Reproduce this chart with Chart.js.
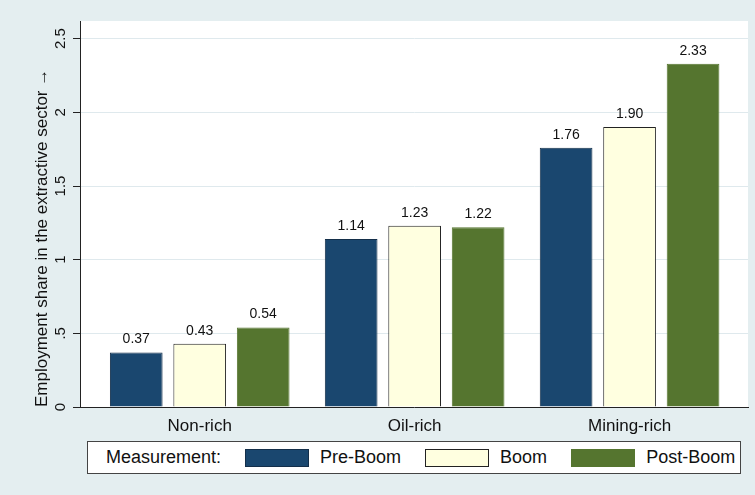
<!DOCTYPE html>
<html>
<head>
<meta charset="utf-8">
<script src="https://cdn.jsdelivr.net/npm/chart.js@4.4.0/dist/chart.umd.min.js"></script>
<style>
  body { margin: 0; background: #e4eef0; }
  #wrap { position: relative; width: 755px; height: 495px; }
  #legend {
    position: absolute; left: 87px; top: 441px; width: 652px; height: 31px;
    background: #fff; border: 1px solid #444;
    display: flex; align-items: center; white-space: nowrap;
    font-family: "Liberation Sans", Arial, sans-serif; font-size: 18px; color: #111;
  }
  #legend span { flex-shrink: 0; }
  #legend .title { margin-left: 18px; margin-right: 24px; }
  #legend .sw { width: 62px; height: 16px; border: 1px solid #222; margin-right: 11px; }
  #legend .lab { margin-right: 24px; }
</style>
</head>
<body>
<div id="wrap">
  <canvas id="myChart" width="755" height="495"></canvas>
  <div id="legend"></div>
</div>
<script>
// categories and series
let categories = ['Non-rich', 'Oil-rich', 'Mining-rich'];
let preBoom = [0.37, 1.14, 1.76];
let boom = [0.43, 1.23, 1.90];
let postBoom = [0.54, 1.22, 2.33];
let yTicks = [0, 0.5, 1, 1.5, 2, 2.5];
let yTickLabels = ['0', '.5', '1', '1.5', '2', '2.5'];
let legendTitle = 'Measurement:';
let yTitle = 'Employment share in the extractive sector \u2192';

const font = '"Liberation Sans", Arial, sans-serif';

function toPoints(values) {
    return values.map((v, i) => ({ x: i, y: v }));
}

// sfondo grigio-azzurro + area bianca
const bgPlugin = {
    id: 'bg',
    beforeDraw(chart) {
        const c = chart.ctx, a = chart.chartArea;
        c.save();
        c.fillStyle = '#e4eef0';
        c.fillRect(0, 0, chart.width, chart.height);
        c.fillStyle = '#ffffff';
        c.fillRect(a.left, a.top, a.right - a.left, a.bottom - a.top);
        c.restore();
    }
};

// etichette valori sopra le barre
const valuePlugin = {
    id: 'values',
    afterDatasetsDraw(chart) {
        const c = chart.ctx;
        c.save();
        c.font = '14px ' + font;
        c.fillStyle = '#111';
        c.textAlign = 'center';
        c.textBaseline = 'middle';
        chart.data.datasets.forEach((ds, di) => {
            chart.getDatasetMeta(di).data.forEach((bar, i) => {
                c.fillText(ds.data[i].y.toFixed(2), bar.x, bar.y - 13);
            });
        });
        c.restore();
    }
};

const ctx = document.getElementById('myChart');
const myChart = new Chart(ctx, {
    type: 'bar',
    data: {
        datasets: [
            { label: 'Pre-Boom', data: toPoints(preBoom), backgroundColor: '#1a476f', borderColor: '#142f4a', borderWidth: 1 },
            { label: 'Boom', data: toPoints(boom), backgroundColor: '#ffffe0', borderColor: '#222222', borderWidth: 1 },
            { label: 'Post-Boom', data: toPoints(postBoom), backgroundColor: '#55752f', borderColor: '#55752f', borderWidth: 1 }
        ]
    },
    options: {
        responsive: false,
        animation: false,
        events: [],
        layout: { padding: { top: 21, right: 7, left: 0, bottom: 0 } },
        categoryPercentage: 0.886,
        barPercentage: 0.83,
        plugins: { legend: { display: false }, tooltip: { enabled: false } },
        scales: {
            x: {
                type: 'linear',
                offset: false,
                min: -0.557,
                max: 2.551,
                afterBuildTicks: (s) => { s.ticks = categories.map((c, i) => ({ value: i })); },
                afterFit: (s) => { s.height = 88; },
                grid: { display: false },
                border: { display: true, color: '#222', width: 1 },
                ticks: {
                    autoSkip: false,
                    maxRotation: 0,
                    padding: 1,
                    color: '#111',
                    font: { family: font, size: 17 },
                    callback: (v) => categories[v]
                }
            },
            y: {
                min: 0,
                max: 2.62,
                afterBuildTicks: (s) => { s.ticks = yTicks.map(v => ({ value: v })); },
                afterFit: (s) => { s.width = 80; },
                grid: {
                    color: (c) => c.tick && c.tick.value === 0 ? 'rgba(0,0,0,0)' : '#dfe9ed',
                    tickColor: '#222',
                    tickLength: 7,
                    lineWidth: 1
                },
                border: { display: true, color: '#222', width: 1 },
                ticks: {
                    minRotation: 90,
                    maxRotation: 90,
                    crossAlign: 'center',
                    padding: 2,
                    color: '#111',
                    font: { family: font, size: 15 },
                    callback: (v) => yTickLabels[yTicks.indexOf(v)]
                },
                title: {
                    display: true,
                    text: yTitle,
                    align: 'start',
                    color: '#111',
                    font: { family: font, size: 17 },
                    padding: { top: 32, bottom: 0 }
                }
            }
        }
    },
    plugins: [bgPlugin, valuePlugin]
});

// legenda HTML con titolo "Measurement:"
const legend = document.getElementById('legend');
let html = '<span class="title">' + legendTitle + '</span>';
myChart.data.datasets.forEach(ds => {
    html += '<span class="sw" style="background:' + ds.backgroundColor + ';border-color:' + ds.borderColor + '"></span>';
    html += '<span class="lab">' + ds.label + '</span>';
});
legend.innerHTML = html;
</script>
</body>
</html>
